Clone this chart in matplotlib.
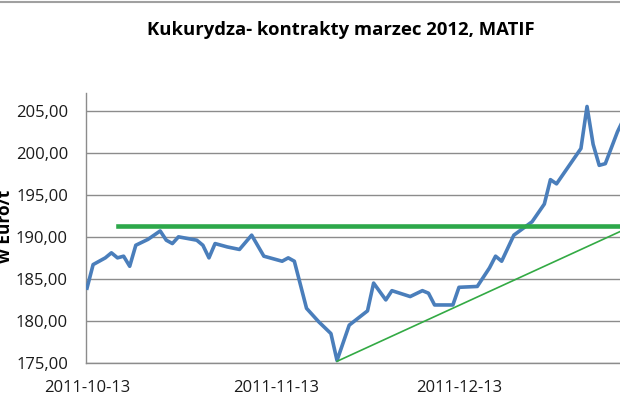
import matplotlib.pyplot as plt
import matplotlib.dates as mdates
import pandas as pd

# --- data (daily closes, EUR/t) ---
dates = ["2011-10-13", "2011-10-14", "2011-10-16", "2011-10-17", "2011-10-18",
         "2011-10-19", "2011-10-20", "2011-10-21", "2011-10-23", "2011-10-25",
         "2011-10-26", "2011-10-27", "2011-10-28", "2011-10-31", "2011-11-01",
         "2011-11-02", "2011-11-03", "2011-11-05", "2011-11-07", "2011-11-09",
         "2011-11-11", "2011-11-14", "2011-11-15", "2011-11-16", "2011-11-18",
         "2011-11-20", "2011-11-22", "2011-11-23", "2011-11-25", "2011-11-28",
         "2011-11-29", "2011-12-01", "2011-12-02", "2011-12-05", "2011-12-07",
         "2011-12-08", "2011-12-09", "2011-12-12", "2011-12-13", "2011-12-16",
         "2011-12-18", "2011-12-19", "2011-12-20", "2011-12-22", "2011-12-25",
         "2011-12-27", "2011-12-28", "2011-12-29", "2012-01-02", "2012-01-03",
         "2012-01-04", "2012-01-05", "2012-01-06", "2012-01-08", "2012-01-09"]
prices = [183.9, 186.7, 187.5, 188.1, 187.5,
          187.7, 186.5, 189.0, 189.7, 190.7,
          189.6, 189.2, 190.0, 189.6, 189.0,
          187.5, 189.2, 188.8, 188.5, 190.2,
          187.7, 187.1, 187.5, 187.1, 181.5,
          179.9, 178.5, 175.3, 179.5, 181.2,
          184.5, 182.5, 183.6, 182.9, 183.6,
          183.3, 181.9, 181.9, 184.0, 184.1,
          186.3, 187.7, 187.1, 190.2, 191.8,
          193.9, 196.8, 196.3, 200.5, 205.5,
          201.0, 198.5, 198.7, 202.5, 204.0]

# resistance level (thick green) and support trend (thin green)
resist_dates = ["2011-10-18", "2012-01-13"]
resist_vals = [191.25, 191.25]
trend_dates = ["2011-11-23", "2012-01-13"]
trend_vals = [175.2, 192.15]

y_ticks = [175, 180, 185, 190, 195, 200, 205]
x_ticks = ["2011-10-13", "2011-11-13", "2011-12-13"]

plt.rcParams['font.family'] = ['Open Sans', 'DejaVu Sans']

fig = plt.figure(figsize=(6.2, 4.13), dpi=100)
ax = fig.add_axes([86 / 620, 50 / 413, 562 / 620, 270 / 413])

ax.plot(pd.to_datetime(dates), prices, color='#4A7EBB', lw=2.6,
        solid_joinstyle='round', zorder=3)
ax.plot(pd.to_datetime(resist_dates), resist_vals, color='#2DA84A', lw=3.3, zorder=4)
ax.plot(pd.to_datetime(trend_dates), trend_vals, color='#33AA44', lw=1.2, zorder=4)

ax.set_ylim(175, 207.1)
ax.set_yticks(y_ticks)
ax.set_yticklabels([f"{v:.2f}".replace('.', ',') for v in y_ticks])
ax.set_xlim(pd.Timestamp("2011-10-13") - pd.Timedelta(hours=4), pd.Timestamp("2012-01-13"))
ax.set_xticks(pd.to_datetime(x_ticks))
ax.xaxis.set_major_formatter(mdates.DateFormatter('%Y-%m-%d'))
ax.tick_params(axis='both', length=0, labelsize=12, colors='#1a1a1a')
ax.tick_params(axis='y', pad=13)
ax.tick_params(axis='x', pad=12)

ax.grid(axis='y', color='#8c8c8c', lw=1)
ax.set_axisbelow(True)
for side in ['top', 'right']:
    ax.spines[side].set_visible(False)
for side in ['left', 'bottom']:
    ax.spines[side].set_color('#8c8c8c')
    ax.spines[side].set_linewidth(1)

fig.text(341 / 620, 1 - 30 / 413, "Kukurydza- kontrakty marzec 2012, MATIF",
         ha='center', va='center', fontsize=13.3, fontweight='bold')
fig.text(5 / 620, 1 - 226 / 413, "w Euro/t", rotation=90, ha='center', va='center',
         fontsize=12.5, fontweight='bold')

# chart-area border along the top
fig.add_artist(plt.Line2D([0, 1], [1 - 2 / 413, 1 - 2 / 413], color='#a0a0a0', lw=1.5))

fig.savefig('out.png', dpi=100)
